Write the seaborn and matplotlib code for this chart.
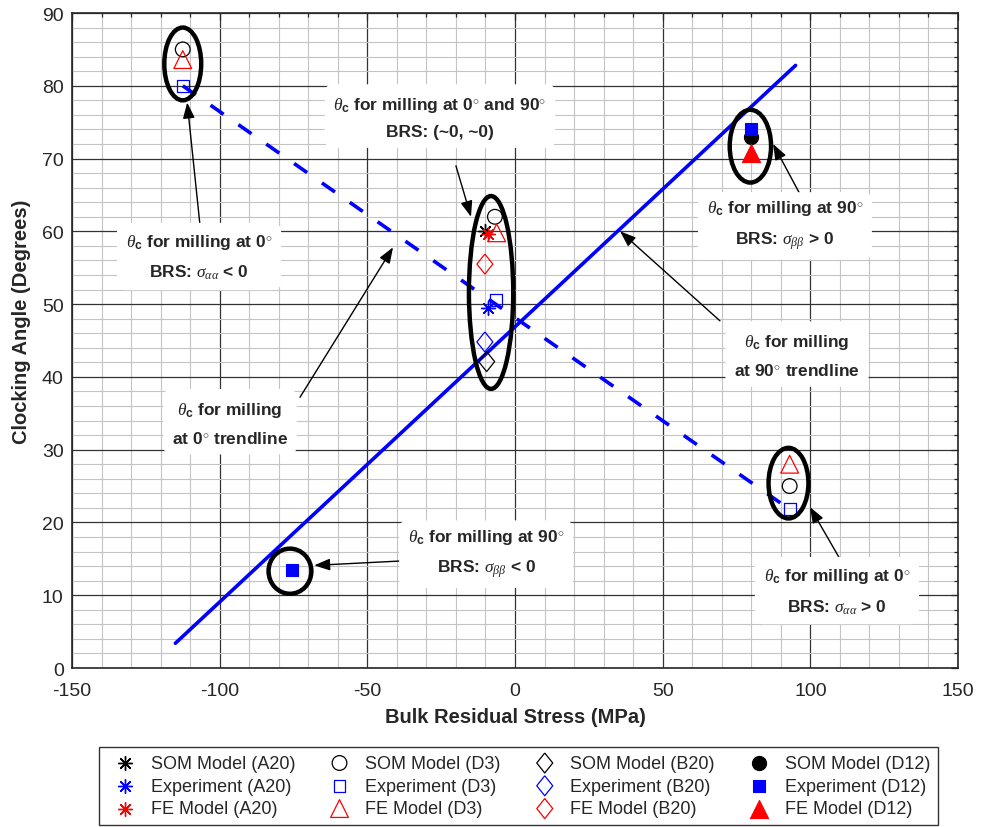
import numpy as np
import matplotlib
matplotlib.use('Agg')
import matplotlib.pyplot as plt
from matplotlib.patches import Ellipse
import seaborn as sns

# Marker data (BRS in MPa, clocking angle in degrees)
som_a20_x = [-10.0]
som_a20_y = [60.0]
exp_a20_x = [-9.2]
exp_a20_y = [49.5]
fe_a20_x = [-9.2]
fe_a20_y = [59.6]

som_d3_x = [-112.5, -6.8, 93.0]
som_d3_y = [85.0, 62.0, 25.0]
exp_d3_x = [-112.5, -6.5, 93.0]
exp_d3_y = [80.0, 50.6, 21.8]
fe_d3_x = [-112.5, -6.2, 93.0]
fe_d3_y = [83.6, 59.8, 28.0]

som_b20_x = [-9.6]
som_b20_y = [42.1]
exp_b20_x = [-10.2]
exp_b20_y = [44.8]
fe_b20_x = [-10.2]
fe_b20_y = [55.5]

som_d12_x = [80.0]
som_d12_y = [72.9]
exp_d12_x = [80.0, -75.6]
exp_d12_y = [74.1, 13.5]
fe_d12_x = [80.0]
fe_d12_y = [70.8]

# Trendlines (end points)
trend90_x = [-115.0, 95.0]
trend90_y = [3.4, 82.8]
trend0_x = [-112.5, 93.0]
trend0_y = [80.0, 21.8]

# Ellipses around the clusters: centre x, centre y, width, height
ell_x = [-112.5, -8.1, 79.7, 92.6, -76.2]
ell_y = [83.0, 51.6, 71.7, 25.4, 13.3]
ell_w = [12.5, 15.0, 14.0, 13.5, 14.5]
ell_h = [10.0, 26.5, 10.0, 9.7, 6.2]

# Callouts
note_text = [
    r'$\theta_{\mathbf{c}}$ for milling at 0$^{\circ}$ and 90$^{\circ}$' + '\n' + 'BRS: (~0, ~0)',
    r'$\theta_{\mathbf{c}}$ for milling at 90$^{\circ}$' + '\n' + r'BRS: $\sigma_{\beta\beta}$ > 0',
    r'$\theta_{\mathbf{c}}$ for milling at 0$^{\circ}$' + '\n' + r'BRS: $\sigma_{\alpha\alpha}$ < 0',
    r'$\theta_{\mathbf{c}}$ for milling' + '\n' + r'at 0$^{\circ}$ trendline',
    r'$\theta_{\mathbf{c}}$ for milling' + '\n' + r'at 90$^{\circ}$ trendline',
    r'$\theta_{\mathbf{c}}$ for milling at 90$^{\circ}$' + '\n' + r'BRS: $\sigma_{\beta\beta}$ < 0',
    r'$\theta_{\mathbf{c}}$ for milling at 0$^{\circ}$' + '\n' + r'BRS: $\sigma_{\alpha\alpha}$ > 0',
]
note_x = [-25.4, 91.4, -107.0, -96.5, 95.5, -9.8, 109.0]
note_y = [75.7, 60.9, 56.5, 33.7, 43.0, 15.8, 10.6]
arrow_tail = [(-20.0, 69.0), (96.5, 65.1), (-106.7, 61.0), (-72.8, 37.2),
              (69.4, 47.7), (-38.9, 14.7), (110.0, 15.0)]
arrow_tip = [(-14.9, 62.0), (87.4, 72.0), (-111.0, 77.7), (-41.3, 57.8),
             (35.6, 60.0), (-68.0, 14.1), (99.9, 22.1)]

sns.set_theme(style='white')
plt.rcParams['font.family'] = ['Liberation Sans', 'DejaVu Sans']
plt.rcParams['mathtext.fontset'] = 'custom'
plt.rcParams['mathtext.rm'] = 'Liberation Sans'
plt.rcParams['mathtext.it'] = 'Liberation Serif:italic'
plt.rcParams['mathtext.bf'] = 'Liberation Sans:bold'
plt.rcParams['axes.unicode_minus'] = False

fig = plt.figure(figsize=(9.92, 8.28), dpi=100)
ax = fig.add_axes([72 / 992, 1 - 669 / 828, 886 / 992, 655 / 828])

# trendlines
sns.lineplot(x=trend90_x, y=trend90_y, color='#0000ff', lw=2.6, ax=ax, zorder=3)
sns.lineplot(x=trend0_x, y=trend0_y, color='#0000ff', lw=2.6, ax=ax, zorder=3,
             linestyle=(0, (4.4, 5.0)))

star = (8, 2, 0)
diamond = [(0, 1), (0.8, 0), (0, -1), (-0.8, 0), (0, 1)]


def pts(x, y, marker, color, size, label, filled=False):
    if marker == star:
        sns.scatterplot(x=x, y=y, marker=marker, color=color, s=size ** 2,
                        linewidth=1.0, label=label, ax=ax, zorder=5)
    elif filled:
        sns.scatterplot(x=x, y=y, marker=marker, color=color, edgecolor=color,
                        s=size ** 2, linewidth=0.8, label=label, ax=ax, zorder=5)
    else:
        sns.scatterplot(x=x, y=y, marker=marker, color=color, facecolor='none',
                        edgecolor=color, s=size ** 2, linewidth=0.9, label=label,
                        ax=ax, zorder=5)


pts(som_a20_x, som_a20_y, star, 'black', 10, 'SOM Model (A20)')
pts(exp_a20_x, exp_a20_y, star, '#0000ff', 10, 'Experiment (A20)')
pts(fe_a20_x, fe_a20_y, star, '#ff0000', 10, 'FE Model (A20)')
pts(som_d3_x, som_d3_y, 'o', 'black', 10.6, 'SOM Model (D3)')
pts(exp_d3_x, exp_d3_y, 's', '#0000ff', 8.6, 'Experiment (D3)')
pts(fe_d3_x, fe_d3_y, '^', '#ff0000', 12.8, 'FE Model (D3)')
pts(som_b20_x, som_b20_y, diamond, 'black', 14.4, 'SOM Model (B20)')
pts(exp_b20_x, exp_b20_y, diamond, '#0000ff', 14.4, 'Experiment (B20)')
pts(fe_b20_x, fe_b20_y, diamond, '#ff0000', 14.4, 'FE Model (B20)')
pts(som_d12_x, som_d12_y, 'o', 'black', 10.2, 'SOM Model (D12)', filled=True)
pts(exp_d12_x, exp_d12_y, 's', '#0000ff', 8.8, 'Experiment (D12)', filled=True)
pts(fe_d12_x, fe_d12_y, '^', '#ff0000', 13.0, 'FE Model (D12)', filled=True)

# ellipses
for cx, cy, w, h in zip(ell_x, ell_y, ell_w, ell_h):
    ax.add_patch(Ellipse((cx, cy), w, h, fill=False, ec='black', lw=3.2, zorder=6))

# arrows + callouts
for (tx, ty), (hx, hy) in zip(arrow_tail, arrow_tip):
    ax.annotate('', xy=(hx, hy), xytext=(tx, ty),
                arrowprops=dict(arrowstyle='-|>,head_length=0.8,head_width=0.3',
                                color='black', lw=1.0, shrinkA=0, shrinkB=0),
                zorder=8)
for txt, x, y in zip(note_text, note_x, note_y):
    ax.text(x, y, txt, ha='center', va='center', fontsize=12.5, fontweight='bold',
            linespacing=1.85, zorder=10,
            bbox=dict(boxstyle='round,pad=0.5', fc='white', ec='none'))

ax.set_xlim(-150, 150)
ax.set_ylim(0, 90)
ax.set_xticks(np.arange(-150, 151, 50))
ax.set_yticks(np.arange(0, 91, 10))
ax.set_xticks(np.arange(-150, 151, 10), minor=True)
ax.set_yticks(np.arange(0, 91, 2), minor=True)
ax.grid(which='major', color='#333333', lw=0.9)
ax.grid(which='minor', color='#c4c4c4', lw=0.8)
ax.set_axisbelow(True)
ax.tick_params(which='both', direction='in', top=True, right=True, color='#262626',
               width=0.9, labelsize=14, labelcolor='#262626')
ax.tick_params(which='major', length=5)
ax.tick_params(which='minor', length=3)
ax.tick_params(axis='x', which='major', pad=10)
ax.tick_params(axis='y', which='major', pad=6)
for s in ax.spines.values():
    s.set_color('#262626')
    s.set_linewidth(1.2)

ax.set_xlabel('Bulk Residual Stress (MPa)', fontsize=14.5, fontweight='bold')
ax.set_ylabel('Clocking Angle (Degrees)', fontsize=14.5, fontweight='bold')
ax.xaxis.set_label_coords(0.5, -0.06)
ax.yaxis.set_label_coords(-0.046, 0.53)

handles, labels = ax.get_legend_handles_labels()
if ax.get_legend() is not None:
    ax.get_legend().remove()
leg = fig.legend(handles, labels, ncol=4, loc='center', bbox_to_anchor=(0.5227, 0.0495),
                 fontsize=13, frameon=True, fancybox=False, edgecolor='black',
                 handlelength=2.0, handletextpad=0.41, columnspacing=1.46,
                 borderpad=0.42, labelspacing=0.32, scatterpoints=1)
leg.get_frame().set_linewidth(1.0)

fig.savefig('out.png', dpi=100)
